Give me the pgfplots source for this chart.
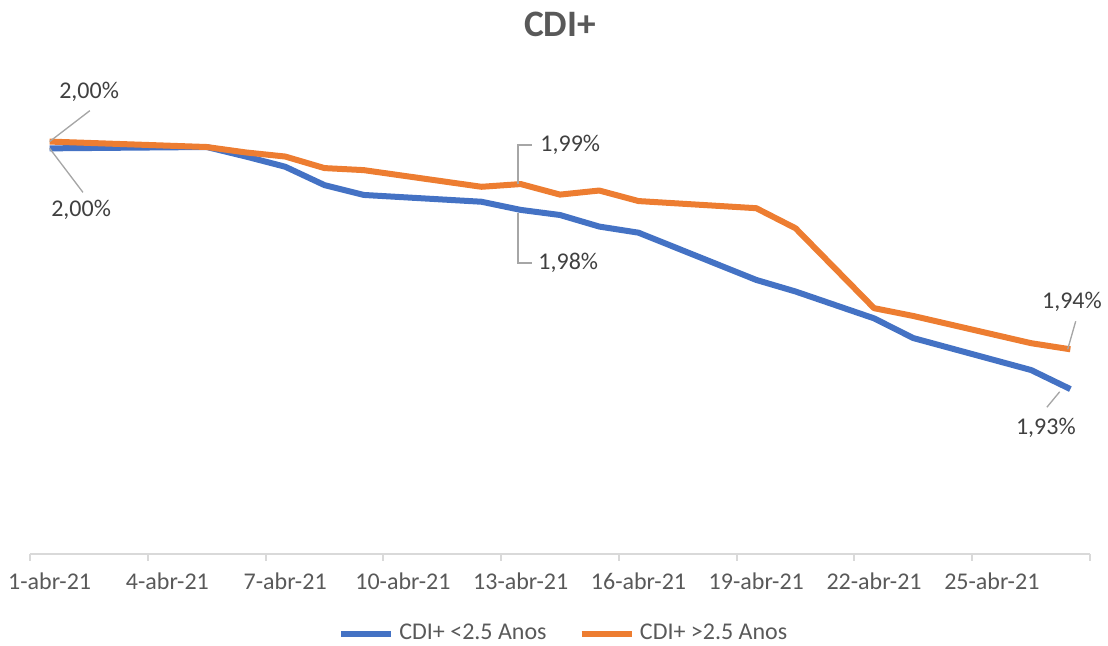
\documentclass[border=0pt]{standalone}
\usepackage{fontspec}
\setmainfont{Carlito}
\usepackage{pgfplots}
\pgfplotsset{compat=1.18}
\usetikzlibrary{calc}
\definecolor{cblue}{HTML}{4472C4}
\definecolor{corange}{HTML}{ED7D31}
\definecolor{txt}{HTML}{595959}
\definecolor{lbl}{HTML}{404040}
\definecolor{axl}{HTML}{D9D9D9}
\definecolor{lead}{HTML}{A6A6A6}
\begin{document}
\begin{tikzpicture}[font=\fontsize{9}{11}\selectfont]
\begin{axis}[
  scale only axis, width=397.5pt, height=178.5pt,
  xmin=0.5, xmax=27.5, ymin=1.88, ymax=2.02,
  axis x line*=bottom, axis y line=none,
  axis line style={axl, line width=0.75pt},
  xtick={1,4,7,10,13,16,19,22,25},
  xticklabels={1-abr-21,4-abr-21,7-abr-21,10-abr-21,13-abr-21,16-abr-21,19-abr-21,22-abr-21,25-abr-21},
  major tick length=0pt,
  xticklabel style={txt, anchor=base, yshift=-13.5pt},
  extra x ticks={0.5,3.5,6.5,9.5,12.5,15.5,18.5,21.5,24.5,27.5},
  extra x tick labels={},
  extra x tick style={major tick length=2.6pt, tick align=outside, tick style={axl, line width=0.75pt}},
  clip=false,
  legend columns=2,
  legend style={at={(0.505,0)}, anchor=center, yshift=-30pt, draw=none, fill=none,
    font=\fontsize{9}{11}\selectfont\color{txt},
    /tikz/every even column/.append style={column sep=10pt}},
  legend image code/.code={\draw[#1, line width=2.25pt] (0pt,0pt) -- (18.75pt,0pt);},
]
\addplot[cblue, line width=2.25pt, line join=round, no markers] coordinates {
(1,1.9993)(5,1.9997)(6,1.9969)(7,1.9939)(8,1.9885)(9,1.9856)(12,1.9836)(13,1.9812)(14,1.9797)(15,1.9763)(16,1.9745)(19,1.9606)(20,1.9572)(22,1.9493)(23,1.9435)(26,1.9341)(27,1.9285)};
\addlegendentry{CDI+ <2.5 Anos}
\addplot[corange, line width=2.25pt, line join=round, no markers] coordinates {
(1,2.0013)(5,1.9997)(6,1.9981)(7,1.9969)(8,1.9935)(9,1.9929)(12,1.9880)(13,1.9888)(14,1.9857)(15,1.9869)(16,1.9838)(19,1.9817)(20,1.9758)(22,1.9523)(23,1.9500)(26,1.9420)(27,1.9402)};
\addlegendentry{CDI+ >2.5 Anos}
% data labels
\draw[lead, line width=0.5pt] (axis cs:1,2.0013) -- ++(15.1pt,11.6pt);
\node[lbl] at (axis cs:1,2.0013) [xshift=14.8pt, yshift=18.6pt] {2,00\%};
\draw[lead, line width=0.5pt] (axis cs:1,1.9993) -- ++(12.5pt,-16.5pt);
\node[lbl] at (axis cs:1,1.9993) [xshift=11.8pt, yshift=-23.2pt] {2,00\%};
\draw[lead, line width=0.5pt] (axis cs:13,1.9888) ++(-1pt,0pt) -- ++(0pt,14.6pt) -- ++(5.3pt,0pt);
\node[lbl, anchor=west, inner sep=0pt] at (axis cs:13,1.9888) [xshift=7.2pt, yshift=14.6pt] {1,99\%};
\draw[lead, line width=0.5pt] (axis cs:13,1.9812) ++(-1pt,-1pt) -- ++(0pt,-18.9pt) -- ++(5.3pt,0pt);
\node[lbl, anchor=west, inner sep=0pt] at (axis cs:13,1.9812) [xshift=6.45pt, yshift=-19.9pt] {1,98\%};
\draw[lead, line width=0.5pt] (axis cs:27,1.9402) ++(-1pt,0pt) -- ++(3pt,10.5pt);
\node[lbl] at (axis cs:27,1.9402) [xshift=0.6pt, yshift=17.7pt] {1,94\%};
\draw[lead, line width=0.5pt] (axis cs:27,1.9285) ++(-4pt,-1pt) -- ++(-4.8pt,-5.8pt);
\node[lbl] at (axis cs:27,1.9285) [xshift=-9.2pt, yshift=-14.6pt] {1,93\%};
% title
\node[txt, anchor=base, font=\bfseries\fontsize{14}{16}\selectfont] at (rel axis cs:0.5,1) [yshift=15.4pt] {CDI+};
\coordinate (bl) at (rel axis cs:0,0);
\coordinate (tr) at (rel axis cs:1,1);
\end{axis}
\pgfresetboundingbox
\path ($(bl)+(-11.25pt,-34.5pt)$) rectangle ($(tr)+(6.75pt,29.25pt)$);
\end{tikzpicture}
\end{document}
